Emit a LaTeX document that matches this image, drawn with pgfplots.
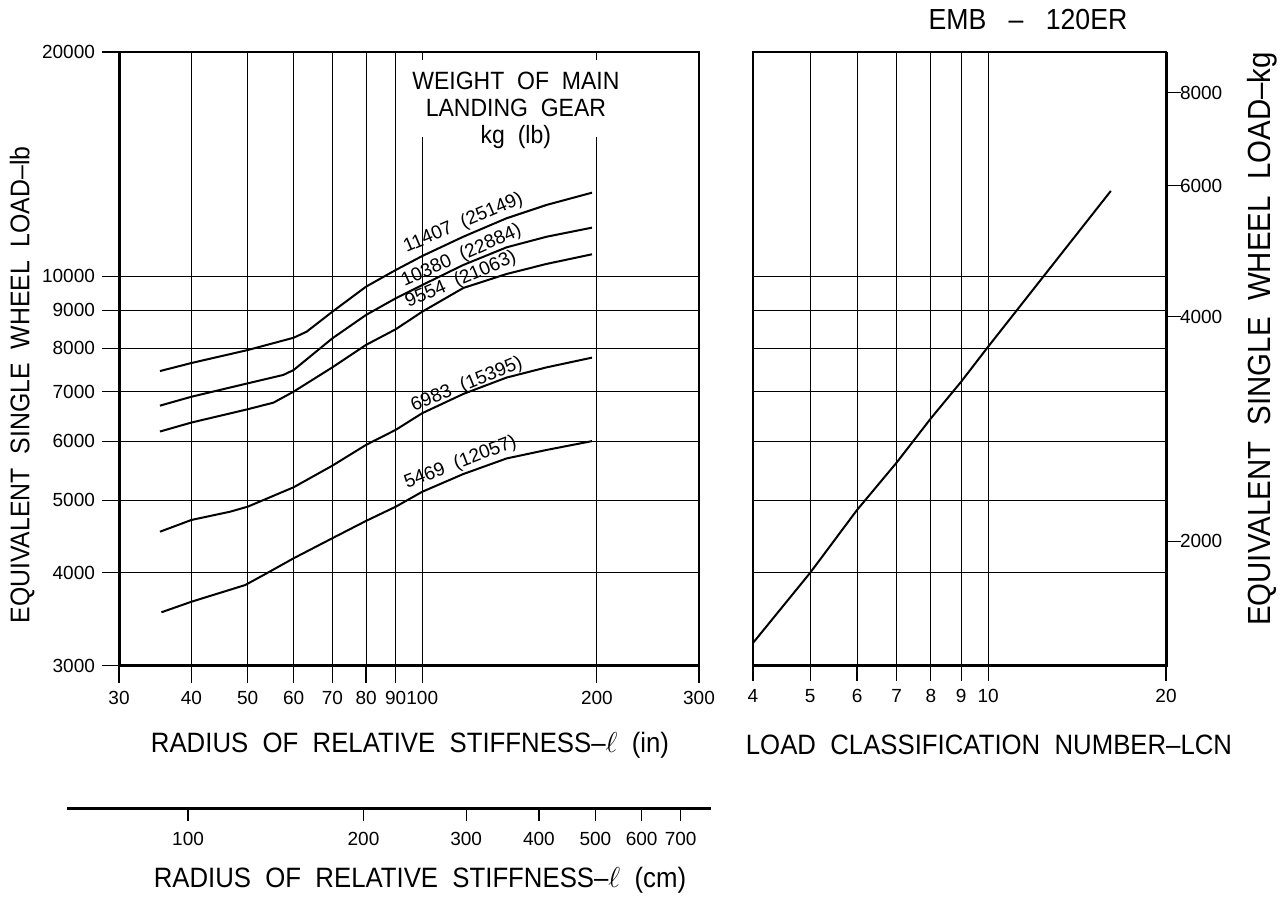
\documentclass[border=0pt]{standalone}
\usepackage{pgfplots}
\pgfplotsset{compat=1.18}
\usepackage{fontspec}
\setmainfont[FakeStretch=0.92]{Liberation Sans}
\newfontfamily\tickfont{Liberation Sans}
\newcommand{\lblfont}{\fontsize{14}{16}\selectfont}
\newcommand{\tfont}{\tickfont\fontsize{9.5}{11}\selectfont}

% ESWL curves: radius of relative stiffness (in) vs ESWL (lb)
\pgfplotstableread{
x y
35.3 7459
40 7647
50 7960
60 8267
63.2 8424
70 8961
80 9682
90 10193
100 10644
117.7 11298
139.8 11962
163.9 12465
196.2 12945
}\curveA
\pgfplotstableread{
x y
35.3 6702
40 6890
50 7181
57.6 7370
60 7482
70 8253
80 8871
90 9339
100 9731
117.7 10353
139.8 10934
163.9 11298
196.2 11618
}\curveB
\pgfplotstableread{
x y
35.3 6187
40 6361
50 6628
55.4 6765
60 6999
70 7545
80 8087
90 8487
100 8961
117.7 9642
139.8 10069
163.9 10387
196.2 10700
}\curveC
\pgfplotstableread{
x y
35.3 4539
40 4707
46.6 4828
50 4904
60 5207
70 5568
80 5937
90 6219
100 6548
117.7 6949
139.8 7311
163.9 7545
196.2 7775
}\curveD
\pgfplotstableread{
x y
35.5 3538
40 3656
49.5 3849
53.9 3991
60 4181
70 4449
80 4693
90 4904
100 5136
117.7 5425
139.8 5693
163.9 5845
196.2 6006
}\curveE
% LCN vs ESWL (kg)
\pgfplotstableread{
x y
4 1459.7
5 1814.4
6 2202
7 2549
8 2923
9 3273
10 3648
16.13 5904
}\lcn

\begin{document}
\begin{tikzpicture}[x=1pt,y=1pt]
\path[use as bounding box] (-59.5,-115.15) rectangle (584,332.85);

% ---------------- left panel ----------------
\begin{axis}[
  at={(0,0)}, anchor=south west,
  scale only axis, width=290pt, height=306.85pt,
  xmode=log, ymode=log,
  xmin=30, xmax=300, ymin=3000, ymax=20000,
  xtick={30,40,50,60,70,80,90,100,200,300},
  xticklabels={30,40,50,60,70,80,90,100,200,300},
  ytick={3000,4000,5000,6000,7000,8000,9000,10000,20000},
  yticklabels={3000,4000,5000,6000,7000,8000,9000,10000,20000},
  minor xtick={}, minor ytick={},
  grid=major, major grid style={black, line width=0.5pt},
  axis line style={black, line width=0.6pt},
  tick align=outside, tick pos=left,
  major tick length=8.5pt, tick style={black, line width=0.6pt},
  tick label style={font=\tfont},
  xticklabel style={yshift=-1pt},
  xlabel={RADIUS\ \ OF\ \ RELATIVE\ \ STIFFNESS--$\ell$\ \ (in)},
  xlabel style={font=\lblfont, at={(axis description cs:0.5017,-0.1292)}, anchor=center},
  ylabel={EQUIVALENT\ \ SINGLE\ \ WHEEL\ \ LOAD--lb},
  ylabel style={font=\fontsize{13.5}{15}\selectfont, at={(axis description cs:-0.1672,0.4574)}, anchor=center, rotate=0},
  clip=false,
]
\fill[white] (axis cs:95.2,15383) rectangle (axis cs:206.4,19500);
\node[align=center, font=\fontsize{12.5}{13.5}\selectfont, inner sep=0pt] at (axis cs:145,16700)
  {WEIGHT\ \ OF\ \ MAIN\\ LANDING\ \ GEAR\\ kg\ \ (lb)};
\addplot[black, line width=1pt] table {\curveA};
\addplot[black, line width=1pt] table {\curveB};
\addplot[black, line width=1pt] table {\curveC};
\addplot[black, line width=1pt] table {\curveD};
\addplot[black, line width=1pt] table {\curveE};
\node[font=\tfont, rotate=23] at (axis cs:117.7,11780) {11407\ \ (25149)};
\node[font=\tfont, rotate=24] at (axis cs:116.9,10645) {10380\ \ (22884)};
\node[font=\tfont, rotate=23] at (axis cs:116.6,9887) {9554\ \ (21063)};
\node[font=\tfont, rotate=22] at (axis cs:119.4,7146) {6983\ \ (15395)};
\node[font=\tfont, rotate=21] at (axis cs:116.4,5614) {5469\ \ (12057)};
\draw[black, line width=1.5pt] (rel axis cs:0,1) -- (rel axis cs:0,0) -- (rel axis cs:1,0);
\end{axis}

% ---------------- right panel ----------------
\begin{axis}[
  at={(317pt,0)}, anchor=south west,
  scale only axis, width=206.5pt, height=306.85pt,
  xmode=log, ymode=log,
  xmin=4, xmax=20, ymin=1360.77, ymax=9071.8,
  xtick={4,5,6,7,8,9,10,20},
  xticklabels={4,5,6,7,8,9,10,20},
  ytick={2000,4000,6000,8000},
  yticklabels={2000,4000,6000,8000},
  minor xtick={}, minor ytick={},
  xmajorgrids=true, ymajorgrids=false,
  extra y ticks={1814.37,2267.96,2721.55,3175.15,3628.74,4082.33,4535.92},
  extra y tick labels={},
  extra y tick style={grid=major, major tick length=0pt, tick style={draw=none}},
  major grid style={black, line width=0.5pt},
  axis line style={black, line width=0.6pt},
  tick align=outside, xtick pos=bottom, ytick pos=right,
  major tick length=7.5pt, tick style={black, line width=0.6pt},
  tick label style={font=\tfont},
  xticklabel style={yshift=-1pt},
  yticklabel style={xshift=-4pt},
  xlabel={LOAD\ \ CLASSIFICATION\ \ NUMBER--LCN},
  xlabel style={font=\lblfont, at={(axis description cs:0.5714,-0.1292)}, anchor=center},
  ylabel={EQUIVALENT\ \ SINGLE\ \ WHEEL\ \ LOAD--kg},
  ylabel style={font=\fontsize{16}{18}\selectfont, at={(axis description cs:1.2324,0.5323)}, anchor=center, rotate=0},
  clip=false,
]
\addplot[black, line width=1pt] table {\lcn};
\node[font=\fontsize{14.5}{16}\selectfont] at (rel axis cs:0.6659,1.0521) {EMB\ \ \ --\ \ \ 120ER};
\draw[black, line width=1.5pt] (rel axis cs:0,0) -- (rel axis cs:1,0) -- (rel axis cs:1,1);
\end{axis}

% ---------------- cm scale ----------------
\begin{axis}[
  at={(-26pt,-71.15pt)}, anchor=south west,
  scale only axis, width=322pt, height=1pt,
  xmode=log, xmin=62, xmax=789.4, ymin=0, ymax=1,
  axis x line=bottom, axis y line=none,
  x axis line style={-, black, line width=1.5pt},
  xtick={100,200,300,400,500,600,700},
  xticklabels={100,200,300,400,500,600,700},
  minor xtick={},
  tick align=outside, major tick length=6.5pt, tick style={black, line width=0.6pt},
  tick label style={font=\tfont},
  xticklabel style={yshift=-2pt},
  xlabel={RADIUS\ \ OF\ \ RELATIVE\ \ STIFFNESS--$\ell$\ \ (cm)},
  xlabel style={font=\lblfont, at={(axis description cs:0.548,0)}, anchor=center, yshift=-36pt},
]
\end{axis}
\end{tikzpicture}
\end{document}
